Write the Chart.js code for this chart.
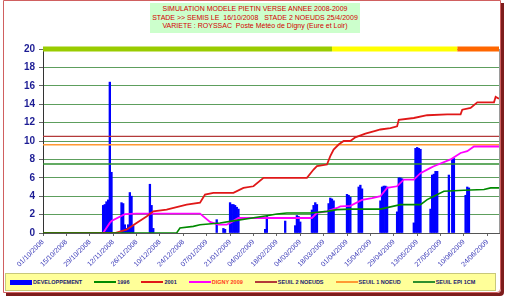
<!DOCTYPE html>
<html>
<head>
<meta charset="utf-8">
<script src="https://cdn.jsdelivr.net/npm/chart.js@4.4.1/dist/chart.umd.min.js"></script>
<style>
body { margin: 0; background: #fff; font-family: "Liberation Sans", Arial, sans-serif; }
#wrap { position: relative; width: 508px; height: 300px; overflow: hidden; }
#frame { position: absolute; left: 3px; top: 0; width: 496px; height: 291px; border: 1px solid #d06060; box-shadow: 3px 3px 0 #7d1c1c; border-radius: 0 0 4px 0; }
#chart { position: absolute; left: 0; top: 0; }
#title { position: absolute; left: 150px; top: 3px; width: 210px; height: 30px; box-sizing: border-box; padding-top: 2px;
  background: #ccffcc; color: #d40000; font-size: 7px; line-height: 8.5px; text-align: center; white-space: pre; }
#legend { position: absolute; left: 5px; top: 273px; width: 491px; height: 18px; box-sizing: border-box; background: #ffff99;
  border: 1px solid #c8c87a; display: flex; align-items: center; padding-left: 4px; font-size: 5.5px; font-weight: bold; color: #1a1a70; }
.item { display: flex; align-items: center; margin-right: 12px; white-space: nowrap; }
.swatch { width: 22px; margin-right: 1px; }
</style>
</head>
<body>
<div id="wrap">
  <div id="frame"></div>
  <canvas id="chart" width="508" height="300"></canvas>
  <div id="title">SIMULATION MODELE PIETIN VERSE ANNEE 2008-2009
STADE &gt;&gt; SEMIS LE  16/10/2008   STADE 2 NOEUDS 25/4/2009
VARIETE : ROYSSAC  Poste Météo de Digny (Eure et Loir)</div>
  <div id="legend"></div>
</div>
<script>
// x = days since 01/10/2008
let tickLabels = ['01/10/2008', '15/10/2008', '29/10/2008', '12/11/2008', '26/11/2008', '10/12/2008',
    '24/12/2008', '07/01/2009', '21/01/2009', '04/02/2009', '18/02/2009', '04/03/2009', '18/03/2009',
    '01/04/2009', '15/04/2009', '29/04/2009', '13/05/2009', '27/05/2009', '10/06/2009', '24/06/2009'];
let lastDay = 273;

let devDays = [36, 37, 38, 39, 40, 41, 47, 48, 49, 50, 51, 52, 53, 54, 64, 65, 66, 104, 108, 109,
    112, 113, 114, 115, 116, 117, 133, 134, 145, 151, 152, 153, 154, 161, 162, 163, 164,
    171, 172, 173, 174, 182, 183, 184, 189, 190, 191, 202, 203, 204, 205, 206,
    212, 213, 214, 215, 222, 223, 224, 225, 226, 232, 233, 234, 235, 236, 243, 245, 246, 253, 254, 255];
let devValues = [3.0, 3.1, 3.4, 3.6, 16.4, 6.6, 3.3, 3.2, 0.9, 0.5, 0.9, 4.4, 4.0, 0.8, 5.3, 3.0, 0.5, 1.45, 0.5, 0.4,
    3.3, 3.1, 3.1, 3.0, 2.8, 2.6, 0.4, 1.8, 1.3, 0.8, 1.9, 1.8, 1.2, 2.5, 3.0, 3.3, 3.1,
    3.2, 3.8, 3.7, 3.5, 4.2, 4.1, 3.9, 5.0, 5.2, 4.8, 3.5, 5.0, 5.1, 5.1, 5.0,
    2.3, 6.0, 6.0, 5.9, 1.1, 9.2, 9.3, 9.2, 9.1, 2.6, 6.3, 6.4, 6.7, 6.7, 6.3, 8.0, 8.1, 4.1, 5.0, 4.9];

let y1996Days = [0, 80, 82, 90, 94, 106, 112, 134, 140, 146, 160, 170, 176, 184, 202, 214, 226, 230, 234, 240, 252, 264, 268, 273];
let y1996Values = [0, 0, 0.54, 0.72, 0.9, 1.09, 1.26, 1.88, 2.07, 2.18, 2.18, 2.35, 2.54, 2.6, 2.6, 3.08, 3.08, 3.63, 4.0, 4.53, 4.64, 4.72, 4.9, 4.9];

let y2001Days = [0, 43, 50, 56, 62, 66, 74, 86, 94, 97, 102, 114, 120, 126, 132, 158, 162, 164, 170, 172, 174, 177, 180, 184,
    187, 193, 199, 202, 208, 212, 213, 222, 230, 242, 250, 251, 256, 260, 270, 271, 273];
let y2001Values = [0, 0, 0.36, 1.09, 1.8, 2.35, 2.54, 3.08, 3.3, 4.17, 4.36, 4.36, 4.9, 5.08, 6.0, 6.0, 6.9, 7.26, 7.44, 8.35, 9.07, 9.62, 10.0, 10.0,
    10.4, 10.8, 11.1, 11.25, 11.4, 11.6, 12.3, 12.5, 12.8, 12.9, 12.9, 13.4, 13.6, 14.2, 14.2, 14.8, 14.6];

let dignyDays = [0, 36, 40, 41, 49, 56, 94, 100, 105, 110, 112, 117, 161, 164, 170, 176, 178, 184, 191, 197, 202, 206,
    212, 216, 222, 226, 232, 234, 244, 250, 254, 258, 273];
let dignyValues = [0, 0, 1.1, 1.3, 2.05, 2.1, 2.1, 1.2, 0.9, 0.9, 1.1, 1.63, 1.63, 2.18, 2.35, 2.72, 2.9, 2.95, 3.6, 3.8, 4.0, 4.9,
    5.08, 5.8, 5.8, 6.5, 7.08, 7.26, 8.0, 8.7, 8.9, 9.4, 9.4];

let seuilNames = ['SEUIL 2 NOEUDS', 'SEUIL 1 NOEUD', 'SEUIL EPI 1CM'];
let seuilValues = [10.5, 9.6, 7.5];

// growth stage band drawn along the top (value 20)
let stageBounds = [0, 173, 248, 273];
let stageLevel = 20;

let seuilColours = ['#b33a3a', '#ff9933', '#2f8f2f'];
let stageColours = ['#99cc00', '#ffff00', '#ff6600'];
let FONT = '"Liberation Sans", Arial, sans-serif';

function pts(days, vals) {
    return days.map(function(d, i) { return {x: d, y: vals[i]}; });
}

let datasets = [
    {type: 'bar', label: 'DEVELOPPEMENT', data: pts(devDays, devValues), backgroundColor: '#0000ff',
        barPercentage: 1, categoryPercentage: 1, order: 5, legendKind: 'bar'},
    {label: '1996', data: pts(y1996Days, y1996Values), borderColor: '#008a00', borderWidth: 1.6},
    {label: '2001', data: pts(y2001Days, y2001Values), borderColor: '#e01818', borderWidth: 1.8},
    {label: 'DIGNY 2009', data: pts(dignyDays, dignyValues), borderColor: '#ff00ff', borderWidth: 1.8, legendText: '#ff3a1a'}
];
for (let i = 0; i < seuilNames.length; i++) {
    datasets.push({label: seuilNames[i], data: [{x: 0, y: seuilValues[i]}, {x: lastDay, y: seuilValues[i]}],
        borderColor: seuilColours[i], borderWidth: 1.4});
}
for (let i = 0; i < stageColours.length; i++) {
    datasets.push({label: 'stade' + i, data: [{x: stageBounds[i], y: stageLevel}, {x: stageBounds[i + 1], y: stageLevel}],
        borderColor: stageColours[i], borderWidth: 5, borderCapStyle: 'butt', clip: false, noLegend: true});
}
datasets.forEach(function(ds) {
    if (ds.type !== 'bar') {
        ds.type = 'line';
        ds.pointRadius = 0;
        ds.fill = false;
        ds.tension = 0;
        ds.order = 1;
    }
});

let plotFrame = {
    id: 'plotFrame',
    beforeDatasetsDraw: function(chart) {
        let a = chart.chartArea, c = chart.ctx;
        c.save();
        c.strokeStyle = '#9a9a9a';
        c.lineWidth = 1;
        c.beginPath();
        c.moveTo(Math.round(a.right) + 0.5, a.top);
        c.lineTo(Math.round(a.right) + 0.5, a.bottom);
        c.stroke();
        c.restore();
    }
};

let ctx = document.getElementById('chart').getContext('2d');
let chart = new Chart(ctx, {
    type: 'line',
    data: {datasets: datasets},
    plugins: [plotFrame],
    options: {
        responsive: false,
        animation: false,
        layout: {padding: {left: 0, top: 49, right: 9, bottom: 27}},
        plugins: {legend: {display: false}, tooltip: {enabled: false}, title: {display: false}},
        scales: {
            x: {
                type: 'linear', min: 0, max: lastDay, offset: false,
                grid: {drawOnChartArea: false, drawTicks: true, tickLength: 3, tickColor: '#666', offset: false},
                border: {display: true, color: '#555', width: 1},
                ticks: {
                    stepSize: 14, includeBounds: false, autoSkip: false, minRotation: 45, maxRotation: 45, padding: 2,
                    color: '#3a3ab8', font: {family: FONT, size: 7},
                    callback: function(v, i) { return tickLabels[i]; }
                },
                afterFit: function(s) { s.height = 40; }
            },
            y: {
                min: 0, max: 20,
                grid: {color: '#5d9e5d', lineWidth: 1, tickLength: 4, tickColor: '#666'},
                border: {display: true, color: '#333', width: 1},
                ticks: {stepSize: 2, padding: 4, color: '#1c1c94', font: {family: FONT, size: 10, weight: 'bold'}},
                afterFit: function(s) { s.width = 43; }
            }
        }
    }
});

// html legend, built from the datasets
let legend = document.getElementById('legend');
datasets.forEach(function(ds) {
    if (ds.noLegend) return;
    let item = document.createElement('div');
    item.className = 'item';
    let sw = document.createElement('div');
    sw.className = 'swatch';
    if (ds.legendKind === 'bar') {
        sw.style.height = '5px';
        sw.style.background = ds.backgroundColor;
    } else {
        sw.style.height = '0';
        sw.style.borderTop = '2px solid ' + ds.borderColor;
    }
    let tx = document.createElement('span');
    tx.textContent = ds.label;
    if (ds.legendText) tx.style.color = ds.legendText;
    item.appendChild(sw);
    item.appendChild(tx);
    legend.appendChild(item);
});
</script>
</body>
</html>
